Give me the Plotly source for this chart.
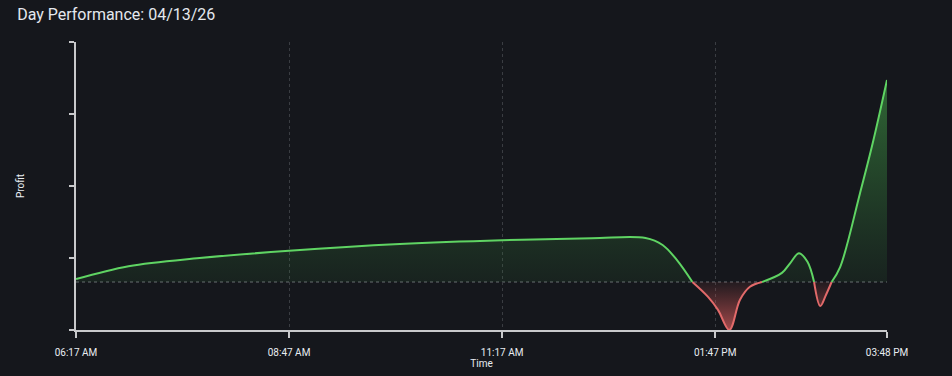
import plotly.graph_objects as go

DATE = "2026-04-13"
times = ["06:17:00", "06:54:00", "07:44:00", "08:47:00", "10:05:00", "11:17:00",
         "12:20:00", "12:58:00", "13:10:00", "13:20:00", "13:31:00",
         "13:42:00", "13:49:00", "13:57:00", "14:04:30", "14:11:30", "14:20:00",
         "14:34:00", "14:40:00", "14:46:00", "14:52:00", "14:56:40",
         "15:01:00", "15:05:00", "15:09:00",
         "15:15:00", "15:29:00", "15:38:00", "15:48:00"]
profit = [6, 33, 50, 65, 79, 87,
          91, 91.5, 77, 46, 0,
          -31, -58, -100, -37, -10, 0,
          19, 40, 60, 42, 0,
          -50, -27, 0,
          31, 185, 290, 421]

tick_times = ["06:17:00", "08:47:00", "11:17:00", "13:47:00", "15:48:00"]
tick_labels = ["06:17 AM", "08:47 AM", "11:17 AM", "01:47 PM", "03:48 PM"]
y_ticks = [-100, 50, 200, 350, 500]
y_range = [-100, 500]

xs = [f"{DATE} {t}" for t in times]

# split series into segments at zero crossings
segments = []
cur_x, cur_y = [xs[0]], [profit[0]]
for i in range(1, len(xs)):
    cur_x.append(xs[i]); cur_y.append(profit[i])
    if profit[i] == 0 and i < len(xs) - 1:
        segments.append((cur_x, cur_y))
        cur_x, cur_y = [xs[i]], [profit[i]]
segments.append((cur_x, cur_y))

fig = go.Figure()
GREEN = "#5fd463"
RED = "#e26a6a"
for sx, sy in segments:
    pos = sum(sy) >= 0
    if pos:
        fg = dict(type="vertical", start=0, stop=421,
                  colorscale=[[0, "rgba(55,140,60,0.10)"], [1, "rgba(70,170,75,0.55)"]])
        col = GREEN
    else:
        fg = dict(type="vertical", start=0, stop=-100,
                  colorscale=[[0, "rgba(200,80,80,0.10)"], [1, "rgba(220,95,95,0.75)"]])
        col = RED
    fig.add_trace(go.Scatter(x=sx, y=sy, mode="lines",
                             line=dict(color=col, width=2, shape="spline", smoothing=1),
                             fill="tozeroy", fillgradient=fg,
                             hoverinfo="skip", showlegend=False))

fig.add_shape(type="line", xref="paper", yref="y", x0=0, x1=1, y0=0, y1=0,
              line=dict(color="#6b6e73", width=1.2, dash="dot"), layer="below")

BG = "#15171c"
fig.update_layout(
    width=952, height=376,
    paper_bgcolor=BG, plot_bgcolor=BG,
    margin=dict(l=76, r=65, t=42, b=46),
    font=dict(family="Roboto, sans-serif", color="#e8ecf1"),
    title=dict(text="Day Performance: 04/13/26", x=0.018, xanchor="left",
               y=0.977, yanchor="top", font=dict(size=16, color="#e4e8ee")),
    xaxis=dict(
        range=[f"{DATE} {tick_times[0]}", f"{DATE} {tick_times[-1]}"],
        tickvals=[f"{DATE} {t}" for t in tick_times], ticktext=tick_labels,
        tickfont=dict(size=10, color="#e8ecf1"), ticklabelstandoff=6,
        showgrid=True, gridcolor="#3a3d42", griddash="dot", gridwidth=1,
        showline=True, linecolor="#c8c9cb", linewidth=2,
        ticks="outside", ticklen=6, tickcolor="#c8c9cb", tickwidth=2,
        zeroline=False,
        title=dict(text="Time", font=dict(size=10, color="#e8ecf1"), standoff=0),
    ),
    yaxis=dict(
        range=y_range, tickvals=y_ticks, ticktext=[""] * len(y_ticks),
        showgrid=False, zeroline=False,
        showline=True, linecolor="#c8c9cb", linewidth=2,
        ticks="outside", ticklen=5, tickcolor="#c8c9cb", tickwidth=2,
        title=dict(text="Profit", font=dict(size=10, color="#e8ecf1"), standoff=40),
    ),
)

fig.write_html("out.html")
